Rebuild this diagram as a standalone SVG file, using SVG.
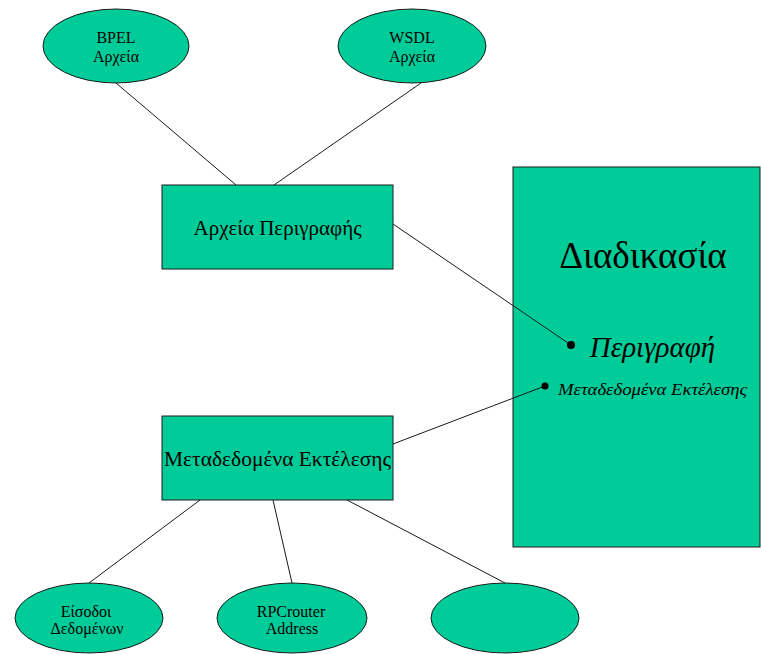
<svg xmlns="http://www.w3.org/2000/svg" width="762" height="654" viewBox="0 0 762 654">
  <style>
    .shape { fill: #00CC99; stroke: #1a1a1a; stroke-width: 1; }
    .link { stroke: #1a1a1a; stroke-width: 1; fill: none; }
    .dot { fill: #000000; }
    text { font-family: "Liberation Serif", "DejaVu Serif", serif; fill: #000000; text-anchor: middle; }
    .small { font-size: 16px; }
    .box { font-size: 21px; }
  </style>
  <rect width="762" height="654" fill="#ffffff"/>

  <g id="bpel">
    <ellipse class="shape" cx="116" cy="46" rx="73" ry="37"/>
    <text class="small" x="116" y="43">BPEL</text>
    <text class="small" x="116" y="62">Αρχεία</text>
  </g>

  <g id="wsdl">
    <ellipse class="shape" cx="412" cy="46" rx="74" ry="37"/>
    <text class="small" x="412" y="43">WSDL</text>
    <text class="small" x="412" y="62">Αρχεία</text>
  </g>

  <g id="description-files">
    <rect class="shape" x="162" y="185" width="231" height="84"/>
    <text class="box" x="277.5" y="235">Αρχεία Περιγραφής</text>
  </g>

  <g id="execution-metadata">
    <rect class="shape" x="162" y="416" width="231" height="84"/>
    <text class="box" x="277.5" y="466" textLength="227" lengthAdjust="spacingAndGlyphs">Μεταδεδομένα Εκτέλεσης</text>
  </g>

  <g id="process">
    <rect class="shape" x="513" y="167" width="247" height="380"/>
    <text x="643" y="268" font-size="37">Διαδικασία</text>
    <text x="652.5" y="357" font-size="29" font-style="italic">Περιγραφή</text>
    <text x="558" y="395" font-size="16" font-style="italic" textLength="189" lengthAdjust="spacingAndGlyphs" style="text-anchor:start">Μεταδεδομένα Εκτέλεσης</text>
  </g>

  <g id="input-data">
    <ellipse class="shape" cx="89" cy="618" rx="74" ry="35"/>
    <text class="small" x="86" y="617">Είσοδοι</text>
    <text class="small" x="87" y="634">Δεδομένων</text>
  </g>

  <g id="rpcrouter">
    <ellipse class="shape" cx="292" cy="618" rx="75" ry="35"/>
    <text class="small" x="291" y="617">RPCrouter</text>
    <text class="small" x="292" y="634">Address</text>
  </g>

  <g id="empty-node">
    <ellipse class="shape" cx="505" cy="618" rx="74" ry="35"/>
  </g>

  <!-- connectors, drawn last so the two pointers run over the process box -->
  <g id="connectors">
    <line class="link" x1="116" y1="83" x2="236" y2="185"/>
    <line class="link" x1="421" y1="83" x2="274" y2="185"/>
    <line class="link" x1="393" y1="224" x2="571" y2="345"/>
    <line class="link" x1="393" y1="444" x2="545" y2="386"/>
    <line class="link" x1="200" y1="500" x2="89" y2="583"/>
    <line class="link" x1="273" y1="500" x2="292" y2="583"/>
    <line class="link" x1="347" y1="500" x2="505" y2="583"/>
    <circle class="dot" cx="571" cy="345" r="4"/>
    <circle class="dot" cx="545" cy="386" r="3.5"/>
  </g>
</svg>
